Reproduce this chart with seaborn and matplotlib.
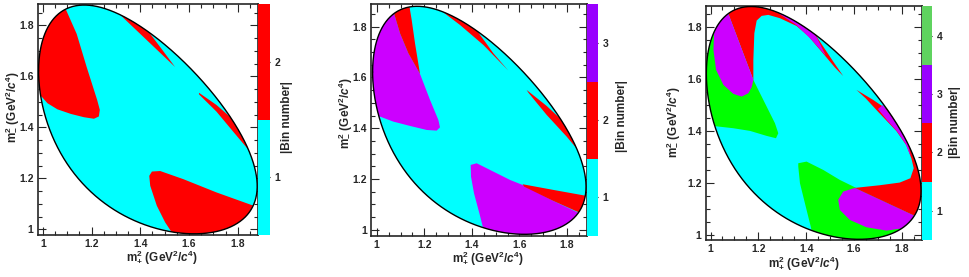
import numpy as np
import matplotlib
matplotlib.use("Agg")
import matplotlib.pyplot as plt
import seaborn as sns
from matplotlib.colors import ListedColormap, BoundaryNorm
from matplotlib.patches import Polygon
from matplotlib.cm import ScalarMappable
from matplotlib.ticker import MultipleLocator, FuncFormatter

# ---------------- data ----------------
# particle masses (GeV/c^2) defining the D0 -> K0S K+ K- Dalitz boundary
M_D = 1.86484
M_KS = 0.497611
M_K = 0.493677

N_BINS = [2, 3, 4]
BIN_TICKS = [[1, 2], [1, 2, 3], [1, 2, 3, 4]]

# bin regions: vertices (m+^2, m-^2); clipped to the Dalitz boundary
P1_BIN2_LEFT = [(1.088, 1.900), (1.094, 1.864), (1.139, 1.767), (1.180, 1.637), (1.223, 1.508),
                (1.234, 1.469), (1.230, 1.443), (1.210, 1.434), (1.169, 1.440), (1.115, 1.453),
                (1.060, 1.471), (1.019, 1.495), (0.995, 1.521), (0.950, 1.530), (0.950, 1.900)]
P1_BIN2_TOP = [(1.271, 1.884), (1.543, 1.637), (1.482, 1.715), (1.441, 1.767), (1.427, 1.793),
               (1.400, 1.832), (1.305, 1.890)]
P1_BIN2_RIGHT = [(1.641, 1.536), (1.713, 1.488), (1.767, 1.443), (1.800, 1.500), (1.950, 1.400),
                 (1.950, 1.260), (1.869, 1.281), (1.849, 1.307), (1.781, 1.384), (1.713, 1.462),
                 (1.641, 1.530)]
P1_BIN2_BOTTOM = [(1.437, 1.210), (1.448, 1.227), (1.482, 1.229), (1.577, 1.197), (1.713, 1.145),
                  (1.856, 1.096), (1.950, 1.070), (1.950, 0.900), (1.540, 0.900), (1.529, 0.989),
                  (1.502, 1.028), (1.468, 1.093), (1.441, 1.171)]

P2_BIN3_LEFT = [(1.045, 1.920), (1.0727, 1.8525), (1.0979, 1.7738), (1.1330, 1.6951), (1.1820, 1.6138),
                (1.2241, 1.5115), (1.2591, 1.4328), (1.2661, 1.4039), (1.2521, 1.3908), (1.2100, 1.3934),
                (1.1400, 1.4092), (1.0699, 1.4262), (1.0138, 1.4459), (0.9858, 1.4525), (0.950, 1.460),
                (0.950, 1.920)]
P2_BIN2_STRIP = [(1.045, 1.920), (1.0727, 1.8525), (1.0979, 1.7738), (1.1330, 1.6951), (1.1820, 1.6138),
                 (1.1610, 1.7344), (1.1470, 1.8262), (1.1372, 1.8813), (1.1344, 1.920)]
P2_BIN2_TOP = [(1.245, 1.900), (1.2633, 1.8682), (1.3502, 1.8066), (1.4483, 1.7279), (1.5534, 1.6269),
               (1.4904, 1.6951), (1.4553, 1.7410), (1.4343, 1.7672), (1.400, 1.820), (1.300, 1.920)]
P2_BIN2_RIGHT = [(1.6305, 1.5508), (1.7146, 1.4879), (1.7777, 1.4328), (1.820, 1.480), (1.950, 1.350),
                 (1.950, 1.250), (1.8688, 1.2885), (1.7987, 1.3672), (1.7146, 1.4525), (1.6375, 1.5403)]
P2_BIN3_BOTTOM = [(1.3950, 1.2557), (1.4203, 1.2623), (1.4904, 1.2295), (1.5604, 1.1967), (1.6165, 1.1757),
                  (1.7426, 1.1141), (1.8520, 1.0656), (1.950, 1.040), (1.950, 0.900), (1.460, 0.900),
                  (1.4511, 0.9934), (1.4315, 1.0656), (1.4090, 1.1443), (1.3964, 1.2098)]
P2_BIN2_BOTTOM = [(1.6137, 1.1797), (1.7426, 1.1574), (1.8828, 1.1338), (1.950, 1.130), (1.950, 1.030),
                  (1.8520, 1.0682), (1.7426, 1.1141), (1.6193, 1.1705)]

P3_BIN4_LEFT = [(0.950, 1.420), (1.0094, 1.4198), (1.0957, 1.4108), (1.1652, 1.4006), (1.2347, 1.3813),
                (1.2737, 1.3723), (1.2834, 1.3916), (1.2695, 1.4301), (1.2347, 1.4944), (1.2069, 1.5458),
                (1.1791, 1.5972), (1.120, 1.700), (1.060, 1.840), (1.030, 1.930), (0.950, 1.930)]
P3_BIN4_BOTTOM = [(1.3669, 1.2759), (1.4016, 1.2823), (1.4712, 1.2502), (1.5407, 1.2116), (1.6033, 1.1834),
                  (1.8537, 1.0728), (1.950, 1.040), (1.950, 0.900), (1.430, 0.900), (1.4225, 1.0188),
                  (1.3947, 1.1216), (1.3740, 1.1988), (1.3669, 1.2630)]
P3_BIN2_TOP = [(1.0539, 1.9019), (1.0748, 1.8517), (1.1791, 1.5972), (1.1791, 1.6743), (1.1833, 1.7772),
               (1.1930, 1.8260), (1.2139, 1.8440), (1.2417, 1.8479), (1.2904, 1.8350), (1.360, 1.805),
               (1.410, 1.765), (1.470, 1.700), (1.520, 1.645), (1.555, 1.612), (1.513, 1.668),
               (1.4712, 1.7258), (1.4434, 1.7643), (1.460, 1.800), (1.300, 1.950), (1.050, 1.950)]
P3_BIN2_RIGHT = [(1.6103, 1.5587), (1.680, 1.520), (1.7415, 1.4815), (1.800, 1.480), (1.950, 1.450),
                 (1.950, 1.050), (1.8537, 1.0728), (1.6033, 1.1808), (1.7076, 1.1911), (1.7911, 1.2014),
                 (1.8356, 1.2181), (1.8496, 1.2567), (1.8397, 1.2950), (1.8189, 1.3450), (1.7772, 1.4000),
                 (1.700, 1.475), (1.650, 1.525)]
P3_BIN3_TOPLEFT = [(1.0539, 1.9019), (1.0748, 1.8517), (1.1791, 1.5972), (1.1722, 1.5689), (1.1582, 1.5458),
                   (1.1304, 1.5329), (1.0957, 1.5432), (1.0539, 1.5779), (1.0233, 1.6358), (1.0122, 1.7129),
                   (1.0150, 1.7772), (1.0233, 1.8183), (1.010, 1.920)]
P3_BIN3_TOPSLIVER = [(1.2765, 1.8671), (1.2904, 1.8500), (1.3599, 1.8080), (1.4225, 1.7520), (1.4823, 1.6900),
                     (1.4503, 1.7500), (1.4256, 1.7900), (1.3491, 1.8450)]
P3_BIN3_RIGHTSLIVER = [(1.700, 1.485), (1.740, 1.440), (1.780, 1.399), (1.815, 1.352), (1.838, 1.300),
                       (1.826, 1.350), (1.790, 1.410), (1.750, 1.465), (1.720, 1.500)]
P3_BIN3_BOTTOM = [(1.5546, 1.1666), (1.6033, 1.1808), (1.8537, 1.0728), (1.8460, 1.0638), (1.8050, 1.0253),
                  (1.7354, 1.0162), (1.6520, 1.0290), (1.5824, 1.0574), (1.5407, 1.0960), (1.5338, 1.1345)]

PANEL_REGIONS = [
    [(2, P1_BIN2_LEFT), (2, P1_BIN2_TOP), (2, P1_BIN2_RIGHT), (2, P1_BIN2_BOTTOM)],
    [(3, P2_BIN3_LEFT), (2, P2_BIN2_STRIP), (2, P2_BIN2_TOP), (2, P2_BIN2_RIGHT),
     (3, P2_BIN3_BOTTOM), (2, P2_BIN2_BOTTOM)],
    [(4, P3_BIN4_LEFT), (4, P3_BIN4_BOTTOM), (2, P3_BIN2_TOP), (2, P3_BIN2_RIGHT),
     (3, P3_BIN3_TOPLEFT), (3, P3_BIN3_TOPSLIVER), (3, P3_BIN3_RIGHTSLIVER), (3, P3_BIN3_BOTTOM)],
]

X_TICKS = [1.0, 1.2, 1.4, 1.6, 1.8]
Y_TICKS = [1.0, 1.2, 1.4, 1.6, 1.8]
X_LABEL = r"$\mathrm{m}^{2}_{+}$ (GeV$^{2}$/$c^{4}$)"
Y_LABEL = r"$\mathrm{m}^{2}_{-}$ (GeV$^{2}$/$c^{4}$)"
CBAR_LABEL = "|Bin number|"

# ---------------- style ----------------
PLOT_COLORS = {1: "#00ffff", 2: "#ff0000", 3: "#cc00ff", 4: "#00ff00"}
CBAR_COLORS = ["#00ffff", "#ff0000", "#9900ff", "#5fd35f"]

sns.set_style("ticks")
plt.rcParams["font.family"] = ["Liberation Sans", "DejaVu Sans"]
plt.rcParams["font.weight"] = "bold"
plt.rcParams["mathtext.fontset"] = "custom"
plt.rcParams["mathtext.rm"] = "Liberation Sans:bold"
plt.rcParams["mathtext.it"] = "Liberation Sans:italic:bold"
plt.rcParams["mathtext.bf"] = "Liberation Sans:bold"
plt.rcParams["axes.linewidth"] = 1.2

# layout (figure fractions)
AX_POS = [[0.0389, 0.1516, 0.2270, 0.8329],
          [0.3829, 0.1480, 0.2226, 0.8365],
          [0.7283, 0.1336, 0.2229, 0.8437]]
CB_W = [0.0127, 0.0120, 0.0109]
XLIMS = [(0.979, 1.882), (0.976, 1.883), (0.980, 1.883)]
YLIMS = [(0.978, 1.883), (0.976, 1.888), (0.980, 1.881)]
XLAB_POS = [(0.1669, 0.0733), (0.5036, 0.0686), (0.8297, 0.0505)]
YLAB_POS = [(0.0124, 0.614), (0.3560, 0.592), (0.6949, 0.5596)]
CBLAB_POS = [(0.2959, 0.578), (0.6416, 0.581), (0.9855, 0.5596)]


def dalitz_boundary(n=400):
    s_min = (M_KS + M_K) ** 2
    s_max = (M_D - M_K) ** 2
    th = np.linspace(0, np.pi, n)
    s = s_min + (s_max - s_min) * (1 - np.cos(th)) / 2
    rs = np.sqrt(s)
    e1 = (s + M_KS ** 2 - M_K ** 2) / (2 * rs)
    e2 = (M_D ** 2 - s - M_K ** 2) / (2 * rs)
    p1 = np.sqrt(np.clip(e1 ** 2 - M_KS ** 2, 0, None))
    p2 = np.sqrt(np.clip(e2 ** 2 - M_K ** 2, 0, None))
    tmax = (e1 + e2) ** 2 - (p1 - p2) ** 2
    tmin = (e1 + e2) ** 2 - (p1 + p2) ** 2
    bx = np.concatenate([s, s[::-1], s[:1]])
    by = np.concatenate([tmax, tmin[::-1], tmax[:1]])
    return bx, by


bx, by = dalitz_boundary()
fig = plt.figure(figsize=(9.69, 2.77), dpi=100)
fmt = FuncFormatter(lambda v, _: f"{v:g}")

for i in range(3):
    ax = fig.add_axes(AX_POS[i])
    clip = Polygon(np.column_stack([bx, by]), closed=True, facecolor=PLOT_COLORS[1],
                   edgecolor="none", zorder=1)
    ax.add_patch(clip)
    for b, verts in PANEL_REGIONS[i]:
        xs = [v[0] for v in verts]
        ys = [v[1] for v in verts]
        for p in ax.fill(xs, ys, color=PLOT_COLORS[b], lw=0, zorder=2):
            p.set_clip_path(clip)
    sns.lineplot(x=bx, y=by, sort=False, estimator=None, color="black", linewidth=1.0,
                 ax=ax, zorder=3)
    ax.set_xlim(*XLIMS[i])
    ax.set_ylim(*YLIMS[i])
    ax.set_xticks(X_TICKS)
    ax.set_yticks(Y_TICKS)
    ax.xaxis.set_major_formatter(fmt)
    ax.yaxis.set_major_formatter(fmt)
    ax.xaxis.set_minor_locator(MultipleLocator(0.05))
    ax.yaxis.set_minor_locator(MultipleLocator(0.05))
    ax.tick_params(which="both", direction="in", top=True, right=True, width=0.8,
                   labelsize=7.5, pad=3)
    ax.tick_params(which="major", length=6)
    ax.tick_params(which="minor", length=3)
    ax.set_xlabel("")
    ax.set_ylabel("")
    for lab in ax.get_xticklabels() + ax.get_yticklabels():
        lab.set_fontweight("bold")
    for sp in ax.spines.values():
        sp.set_visible(True)
        sp.set_linewidth(1.2)

    # colour bar
    n = N_BINS[i]
    x0, y0, w, h = AX_POS[i]
    cax = fig.add_axes([x0 + w, y0, CB_W[i], h])
    cmap = ListedColormap(CBAR_COLORS[:n])
    norm = BoundaryNorm(np.arange(0.5, n + 1), n)
    cb = fig.colorbar(ScalarMappable(norm=norm, cmap=cmap), cax=cax, ticks=BIN_TICKS[i])
    cb.outline.set_visible(False)
    cax.minorticks_off()
    cax.tick_params(direction="in", length=5, width=0.8, labelsize=7.5, pad=3, color="black")
    for lab in cax.get_yticklabels():
        lab.set_fontweight("bold")

    fig.text(*XLAB_POS[i], X_LABEL, ha="center", va="center", fontsize=8.5, fontweight="bold")
    fig.text(*YLAB_POS[i], Y_LABEL, ha="center", va="center", rotation=90, fontsize=8.5,
             fontweight="bold")
    fig.text(*CBLAB_POS[i], CBAR_LABEL, ha="center", va="center", rotation=90, fontsize=8.5,
             fontweight="bold")

fig.savefig("out.png", dpi=100)
